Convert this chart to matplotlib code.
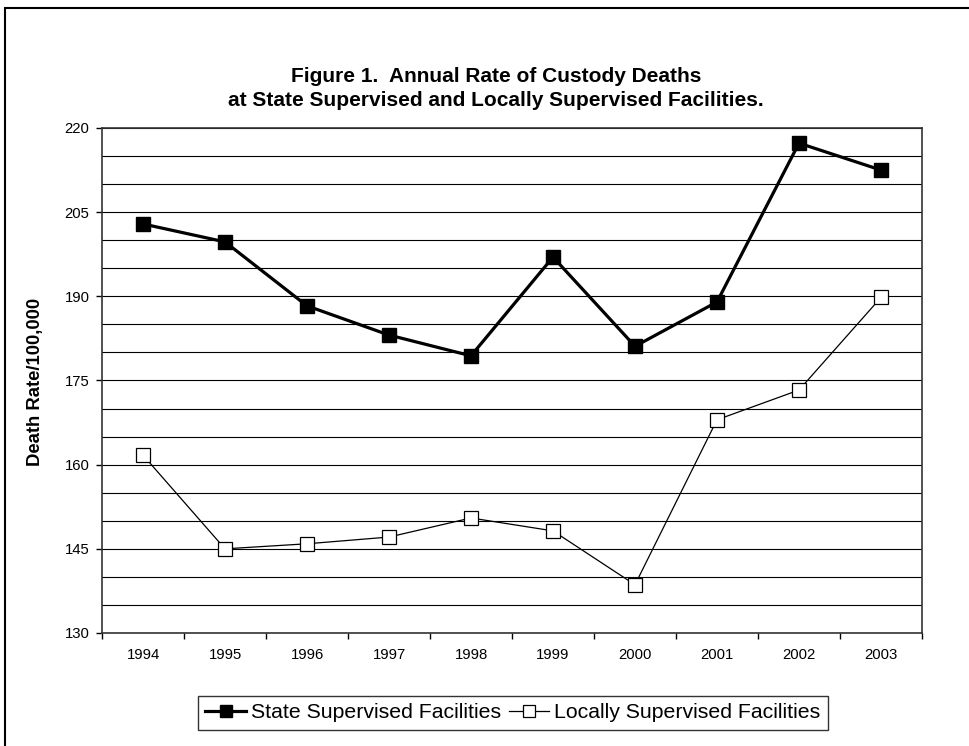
import matplotlib
matplotlib.use("Agg")
import matplotlib.pyplot as plt
from matplotlib.patches import Rectangle
from matplotlib.ticker import MultipleLocator, FixedLocator

years = ["1994", "1995", "1996", "1997", "1998", "1999", "2000", "2001", "2002", "2003"]
state = [202.9, 199.7, 188.3, 183.1, 179.4, 197.0, 181.1, 189.0, 217.3, 212.5]
local = [161.7, 145.0, 145.9, 147.1, 150.5, 148.2, 138.6, 168.0, 173.3, 189.8]
y_ticks = [130, 145, 160, 175, 190, 205, 220]

plt.rcParams['font.family'] = ['Liberation Sans', 'DejaVu Sans']

W, H = 969, 746
fig = plt.figure(figsize=(W / 100, H / 100), dpi=100)
ax = fig.add_axes([102 / W, 1 - 633 / H, (922 - 102) / W, (633 - 128) / H])

x = list(range(len(years)))
ax.plot(x, state, color='black', lw=2.3, marker='s', markersize=10.5,
        markerfacecolor='black', markeredgecolor='black',
        label='State Supervised Facilities', zorder=4)
ax.plot(x, local, color='black', lw=0.9, marker='s', markersize=10.3,
        markerfacecolor='white', markeredgecolor='black', markeredgewidth=0.9,
        label='Locally Supervised Facilities', zorder=4)

ax.set_xlim(-0.5, len(years) - 0.5)
ax.set_ylim(130, 220)
ax.set_yticks(y_ticks)
ax.yaxis.set_minor_locator(MultipleLocator(5))
ax.grid(True, which='both', axis='y', color='black', lw=0.8, zorder=1)
ax.set_xticks(x)
ax.set_xticklabels(years)
ax.xaxis.set_minor_locator(FixedLocator([i - 0.5 for i in range(len(years) + 1)]))
ax.tick_params(axis='x', which='major', length=0, labelsize=10.7, pad=11)
ax.tick_params(axis='x', which='minor', length=4, direction='out', width=1)
ax.tick_params(axis='y', which='major', length=4, direction='out', width=1, labelsize=10.7, pad=5)
ax.tick_params(axis='y', which='minor', length=0)
for s in ax.spines.values():
    s.set_color('#333333')
    s.set_linewidth(1.2)

fig.text(36 / W, 1 - 382 / H, 'Death Rate/100,000', rotation=90,
         ha='center', va='center', fontsize=13.3, fontweight='bold')

fig.text(496 / W, 1 - 77 / H, 'Figure 1.  Annual Rate of Custody Deaths',
         ha='center', va='center', fontsize=15, fontweight='bold')
fig.text(496 / W, 1 - 100 / H, 'at State Supervised and Locally Supervised Facilities.',
         ha='center', va='center', fontsize=15, fontweight='bold')

leg = fig.legend(loc='center', bbox_to_anchor=(513 / W, 1 - 713 / H), ncol=2,
                 frameon=True, fancybox=False, fontsize=15.3, handlelength=1.9,
                 handletextpad=0.25, columnspacing=0.35, borderpad=0.35,
                 borderaxespad=0, edgecolor='black')
leg.get_frame().set_linewidth(1.0)
for h in leg.legend_handles:
    h.set_markersize(9)

fig.patches.append(Rectangle((5 / W, -0.05), 1.1, 1 - 8 / H + 0.05,
                             transform=fig.transFigure, fill=False,
                             edgecolor='black', lw=1.5))

fig.savefig('out.png', dpi=100)
